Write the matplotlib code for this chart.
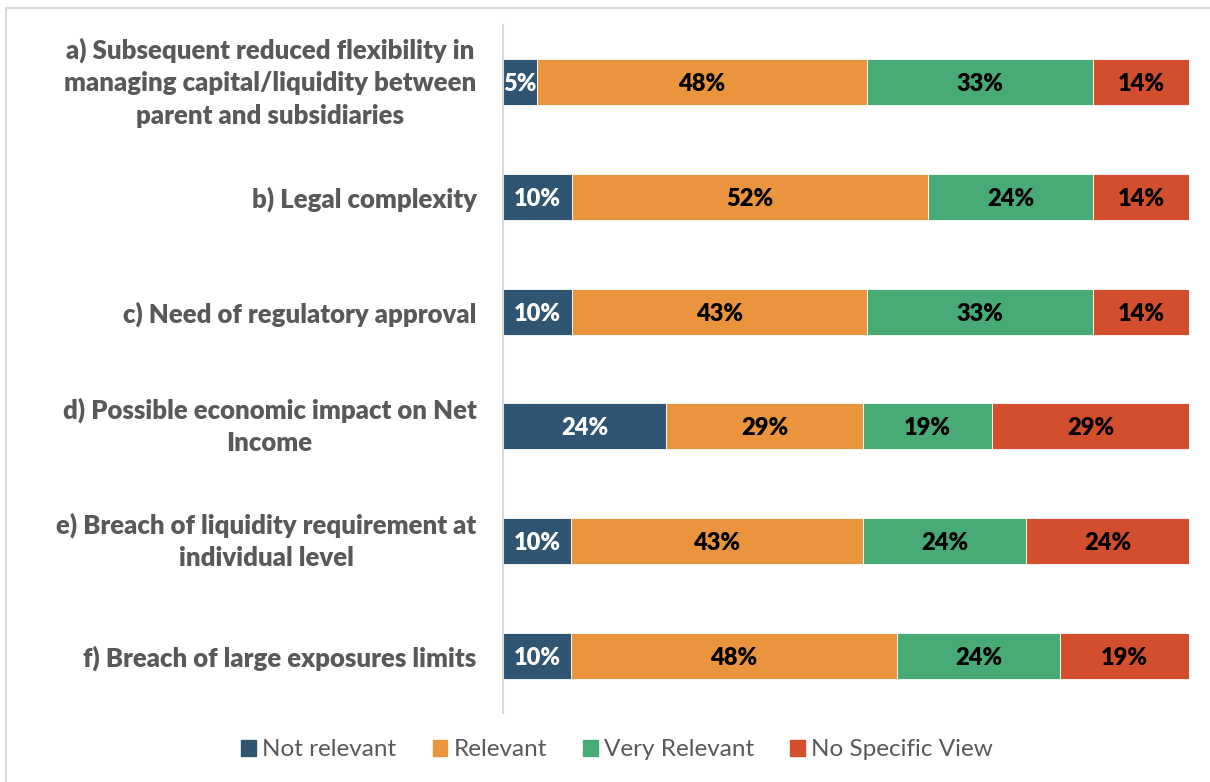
import numpy as np
import matplotlib.pyplot as plt
from matplotlib.lines import Line2D

categories = [
    "a) Subsequent reduced flexibility in\nmanaging capital/liquidity between\nparent and subsidiaries",
    "b) Legal complexity",
    "c) Need of regulatory approval",
    "d) Possible economic impact on Net\nIncome",
    "e) Breach of liquidity requirement at\nindividual level",
    "f) Breach of large exposures limits",
]
series = ["Not relevant", "Relevant", "Very Relevant", "No Specific View"]
not_relevant = [5, 10, 10, 24, 10, 10]
relevant = [48, 52, 43, 29, 43, 48]
very_relevant = [33, 24, 33, 19, 24, 24]
no_view = [14, 14, 14, 29, 24, 19]

colors = ["#2F5573", "#EA943D", "#48AB76", "#D34E2C"]
label_colors = ["white", "black", "black", "black"]

plt.rcParams['font.family'] = ['Lato', 'DejaVu Sans']

fig = plt.figure(figsize=(12.1, 7.82), dpi=100)
ax = fig.add_axes([0.4157, 0.0882, 0.5669, 0.8798])

data = np.array([not_relevant, relevant, very_relevant, no_view], dtype=float)
totals = data.sum(axis=0)
shares = data / totals  # 100% stacked

y = np.arange(len(categories))
left = np.zeros(len(categories))
for i, name in enumerate(series):
    ax.barh(y, shares[i], left=left, height=0.40, color=colors[i],
            edgecolor="white", linewidth=0.6, label=name)
    for j in range(len(categories)):
        ax.text(left[j] + shares[i][j] / 2, y[j], "%d%%" % data[i][j],
                ha="center", va="center_baseline", fontsize=17, fontweight="heavy",
                color=label_colors[i])
    left += shares[i]

ax.set_xlim(0, 1)
ax.set_ylim(5.5, -0.5)
ax.set_yticks(y)
ax.set_yticklabels(categories, fontsize=18.5, fontweight="heavy", color="#595959",
                   multialignment="center", linespacing=1.42)
for lbl in ax.get_yticklabels():
    if "\n" in lbl.get_text():
        lbl.set_va("center")
ax.tick_params(axis="y", length=0, pad=19)
ax.set_xticks([])
for s in ["top", "right", "bottom"]:
    ax.spines[s].set_visible(False)
ax.spines["left"].set_color("#D9D9D9")
ax.spines["left"].set_linewidth(1.5)

handles = [plt.Rectangle((0, 0), 1, 1, color=c) for c in colors]
fig.legend(handles, series, loc="center", bbox_to_anchor=(0.510, 0.041), ncol=4,
           frameon=False, fontsize=17.5, labelcolor="#595959",
           handlelength=0.6, handleheight=0.6, handletextpad=0.25, columnspacing=1.5)

# chart border (left and top only visible)
fig.add_artist(Line2D([0.005, 0.005], [0, 0.99], transform=fig.transFigure, color="#D9D9D9", lw=1.5))
fig.add_artist(Line2D([0.005, 1], [0.99, 0.99], transform=fig.transFigure, color="#D9D9D9", lw=1.5))

fig.savefig("out.png", dpi=100)
